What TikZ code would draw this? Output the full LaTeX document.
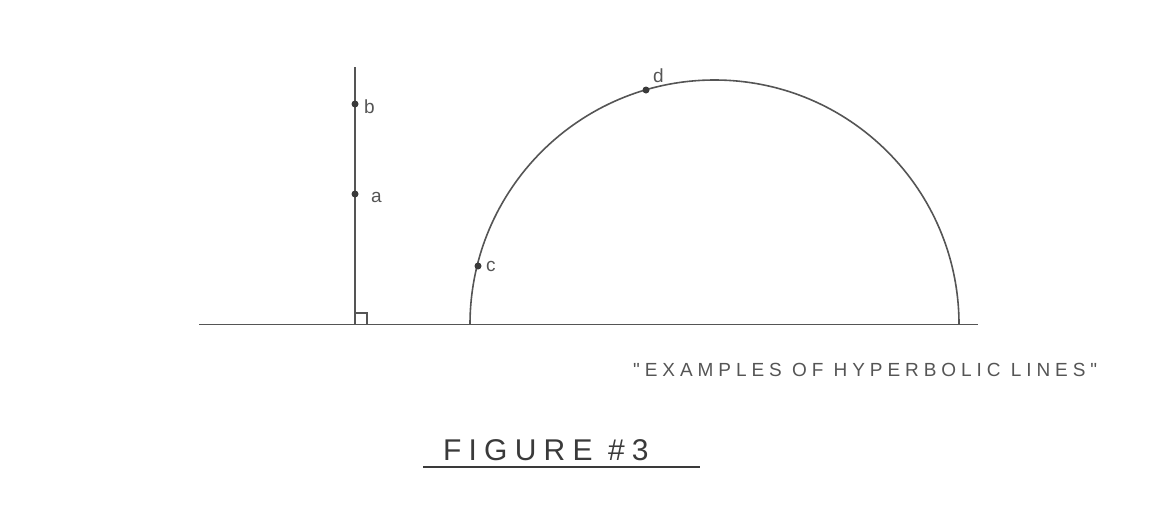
\documentclass[tikz,border=0pt]{standalone}
\usepackage{fontspec}
\setmainfont{Liberation Sans}
\newfontfamily\capsfont[LetterSpace=26]{Liberation Sans}
\newfontfamily\figfont[LetterSpace=24]{Liberation Sans}
\definecolor{pencil}{HTML}{555555}
\definecolor{ink}{HTML}{3A3A3A}
\tikzset{
  pline/.style={draw=pencil, line width=1.6pt},
  ptdot/.style={circle, fill=ink, inner sep=0pt, minimum size=7pt},
  ptlabel/.style={text=pencil, font=\fontsize{19}{19}\selectfont, inner sep=0pt},
}
\begin{document}
\begin{tikzpicture}[x=1pt,y=-1pt]
\useasboundingbox (0,0) rectangle (1167,507);
% base line
\coordinate (base0) at (199,324.5);
\coordinate (base1) at (978,324.5);
\draw[pline] (base0) -- (base1);
% vertical hyperbolic line
\coordinate (vtop) at (355,67);
\coordinate (vfoot) at (355,324.5);
\draw[pline] (vtop) -- (vfoot);
% right-angle mark
\coordinate (ra1) at (355,313);
\coordinate (ra2) at (367,313);
\coordinate (ra3) at (367,324.5);
\draw[draw=pencil, line width=1.3pt] (ra1) -- (ra2) -- (ra3);
% semicircle
\coordinate (cL) at (470,324.5);
\draw[pline] (cL) arc[start angle=180, end angle=360, radius=244.5];
% points
\node[ptdot] (b) at (355,104) {};
\node[ptdot] (a) at (355,194) {};
\node[ptdot] (c) at (478,266) {};
\node[ptdot] (d) at (646,90) {};
\node[ptlabel, anchor=west] (lb) at (364,107) {b};
\node[ptlabel, anchor=west] (la) at (371,197) {a};
\node[ptlabel, anchor=west] (lc) at (486,266) {c};
\node[ptlabel, anchor=west] (ld) at (653,76) {d};
% captions
\node[text=pencil, anchor=west, inner sep=0pt, font=\capsfont\fontsize{19}{19}\selectfont] (cap) at (633,370) {"EXAMPLES OF HYPERBOLIC LINES"};
\node[text=ink, anchor=west, inner sep=0pt, font=\figfont\fontsize{30}{30}\selectfont] (fig) at (443,450) {FIGURE \#3};
\coordinate (ul0) at (423,467);
\coordinate (ul1) at (700,467);
\draw[draw=ink, line width=1.8pt] (ul0) -- (ul1);
\end{tikzpicture}
\end{document}
